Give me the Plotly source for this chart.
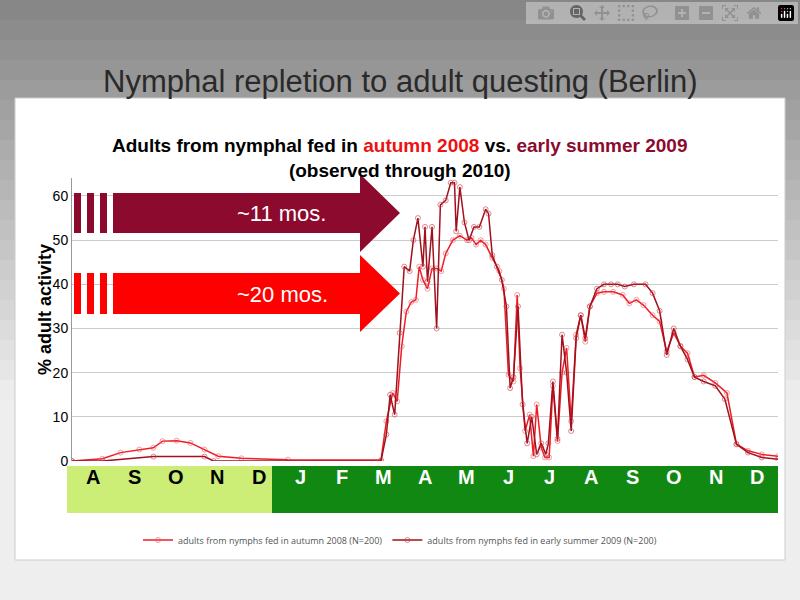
import plotly.graph_objects as go

months = ["A","S","O","N","D","J","F","M","A","M","J","J","A","S","O","N","D"]
yticks = [0,10,20,30,40,50,60]

x_aut = [0,0.73,1.17,1.62,1.96,2.18,2.52,2.85,3.19,3.52,4.08,5.20,7.44,7.57,7.72,7.83,7.94,8.05,8.17,8.28,8.36,8.45,8.56,8.67,8.78,8.89,9.0,9.17,9.34,9.51,9.62,9.73,9.84,9.96,10.12,10.29,10.40,10.51,10.63,10.72,10.79,10.91,11.02,11.11,11.19,11.30,11.39,11.49,11.58,11.69,11.80,11.91,12.02,12.14,12.25,12.36,12.47,12.64,12.81,13.03,13.26,13.42,13.59,13.76,13.98,14.15,14.32,14.49,14.65,14.82,14.99,15.21,15.49,15.77,16.00,16.28,16.61,17.0]
y_aut = [0,0.5,1.9,2.6,3,4.5,4.6,4.1,2.6,1.1,0.6,0.3,0.2,9,15.4,13.5,26,33.8,36,36.5,44,41,39,43.6,43.6,43,47,50,51,50,50.5,49,50,49,46,43,39,19.5,18,37.6,21,6.8,10.5,1.1,12.8,3,0.8,0.8,17,4.5,20,25.6,9,28.6,33,27,35,38,38.3,38.3,37.6,35.7,36.5,35.3,33,31.6,24.8,29,26,24.4,19,19.4,17.7,15.4,3.8,2.3,1.5,1.1]

x_sum = [0,0.73,1.96,3.19,3.41,7.44,7.57,7.66,7.77,7.89,8.00,8.13,8.22,8.33,8.45,8.50,8.56,8.67,8.78,8.87,9.00,9.12,9.21,9.25,9.34,9.45,9.56,9.68,9.81,9.96,10.03,10.12,10.23,10.35,10.46,10.55,10.63,10.74,10.85,10.96,11.07,11.19,11.30,11.41,11.47,11.58,11.69,11.80,11.91,12.02,12.14,12.25,12.36,12.47,12.64,12.81,12.98,13.14,13.31,13.53,13.81,13.98,14.15,14.32,14.49,14.65,14.82,14.99,15.21,15.49,15.72,16.00,16.28,16.61,17.0]
y_sum = [0,0,1,1,0,0,6,15,10.5,29,44,43,50,55,44,53,40.6,53,30,58,59,63,63,52,62,54,50,53,53,57,56,46.6,44,41,35,16.5,19,35,12.8,4,10,1.5,4,1.5,4,18,5,28.6,20,6.8,27.8,33,27.8,35,39,40,40,40,39.5,40,40,38,34,24,30,26,23,19,18,17,14,3.8,1.9,0.8,0.4]

W, H = 800, 600
def px(x): return x / W
def py(y): return 1 - y / H

shapes = []
n = 30
for i in range(n):
    t = i / (n - 1)
    g = int(135 + (238 - 135) * min(1, t * 1.5))
    shapes.append(dict(type="rect", xref="paper", yref="paper", x0=0, x1=1,
                       y0=py((i + 1) * H / n), y1=py(i * H / n),
                       fillcolor=f"rgb({g},{g},{g})", line_width=0, layer="below"))
shapes.append(dict(type="rect", xref="paper", yref="paper", x0=px(15), x1=px(785),
                   y0=py(560), y1=py(98), fillcolor="white", line=dict(color="#cccccc", width=1), layer="below"))
shapes.append(dict(type="rect", xref="paper", yref="paper", x0=px(67), x1=px(272),
                   y0=py(513), y1=py(466), fillcolor="#ccee77", line_width=0))
shapes.append(dict(type="rect", xref="paper", yref="paper", x0=px(272), x1=px(778),
                   y0=py(513), y1=py(466), fillcolor="#118811", line_width=0))

def arrow(ytop, ybot, htop, hbot, color):
    ymid = (ytop + ybot) / 2
    pts = [(118, ytop), (360, ytop), (360, htop), (400, ymid), (360, hbot), (360, ybot), (118, ybot)]
    path = "M " + " L ".join(f"{px(a)},{py(b)}" for a, b in pts) + " Z"
    shapes.append(dict(type="path", xref="paper", yref="paper", path=path, fillcolor=color, line_width=0))
    for x0 in (74, 87, 100, 113):
        shapes.append(dict(type="rect", xref="paper", yref="paper", x0=px(x0), x1=px(x0 + 7),
                           y0=py(ybot), y1=py(ytop), fillcolor=color, line_width=0))

arrow(193, 233, 174, 252, "#8b0a2e")
arrow(273, 314, 255, 332, "#ff0000")

annotations = [
    dict(text="Nymphal repletion to adult questing (Berlin)", x=0.5, y=py(62), xref="paper", yref="paper",
         showarrow=False, font=dict(size=31, color="#2a2a2a", family="Liberation Sans")),
    dict(text="<b>Adults from nymphal fed in <span style='color:#ee1111'>autumn 2008</span> vs. "
              "<span style='color:#8b0a2e'>early summer 2009</span><br>(observed through 2010)</b>",
         x=0.5, y=py(133), xref="paper", yref="paper", showarrow=False,
         font=dict(size=19, color="black", family="Liberation Sans")),
    dict(text="~11 mos.", x=px(235), y=py(213), xref="paper", yref="paper", showarrow=False,
         font=dict(size=22, color="white", family="Liberation Sans")),
    dict(text="~20 mos.", x=px(235), y=py(294), xref="paper", yref="paper", showarrow=False,
         font=dict(size=22, color="white", family="Liberation Sans")),
    dict(text="<b>% adult activity</b>", x=px(33), y=py(310), xref="paper", yref="paper", showarrow=False,
         textangle=-90, font=dict(size=18, color="black", family="Liberation Sans")),
]
for i, m in enumerate(months):
    annotations.append(dict(text=f"<b>{m}</b>", x=i + 0.5, xref="x", y=py(490), yref="paper", showarrow=False,
                            font=dict(size=20, color="black" if i < 5 else "white", family="Liberation Sans")))

fig = go.Figure()
fig.add_trace(go.Scatter(x=x_aut, y=y_aut, mode="lines+markers", name="adults from nymphs fed in autumn 2008 (N=200)",
                         line=dict(color="#ee1c24", width=1.5),
                         marker=dict(symbol="circle-open", size=5, color="rgba(240,90,100,0.6)")))
fig.add_trace(go.Scatter(x=x_sum, y=y_sum, mode="lines+markers", name="adults from nymphs fed in early summer 2009 (N=200)",
                         line=dict(color="#a0101e", width=1.5),
                         marker=dict(symbol="circle-open", size=5, color="rgba(200,60,70,0.6)")))

fig.update_layout(
    width=W, height=H, margin=dict(l=0, r=0, t=0, b=0, autoexpand=False),
    paper_bgcolor="#dddddd", plot_bgcolor="rgba(0,0,0,0)",
    shapes=shapes, annotations=annotations,
    xaxis=dict(domain=[px(72), px(778)], range=[0, 17], showgrid=False, showticklabels=False,
               zeroline=False, showline=False, automargin=False),
    yaxis=dict(domain=[py(461), py(461 - 64 * 4.417)], range=[0, 64], tickvals=yticks,
               showgrid=True, gridcolor="#cccccc", zeroline=False, automargin=False,
               showline=True, linecolor="#999999",
               tickfont=dict(size=14, color="black", family="Liberation Sans")),
    legend=dict(orientation="h", x=0.5, xanchor="center", y=py(540), yanchor="middle",
                font=dict(size=9, color="#555555"), bgcolor="rgba(0,0,0,0)"),
    showlegend=True,
)
fig.write_html("out.html", post_script="document.body.style.margin='0';")
